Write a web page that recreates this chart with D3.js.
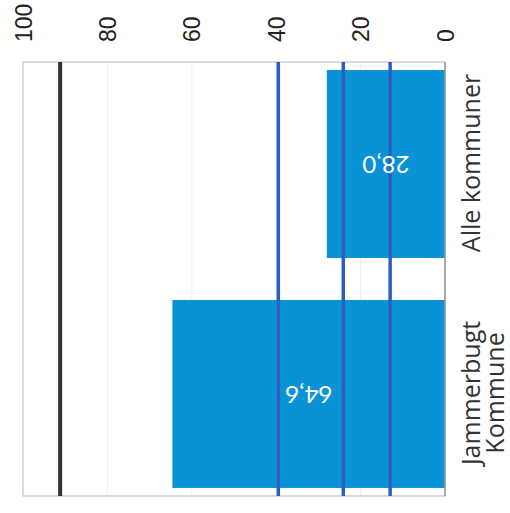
<!DOCTYPE html>
<html>
<head>
<meta charset="utf-8">
<script src="https://cdn.jsdelivr.net/npm/d3@7"></script>
<style>
  body { margin: 0; background: #fff; }
</style>
</head>
<body>
<svg id="chart"></svg>
<script>
// data
const categories = ["Alle kommuner", "Jammerbugt Kommune"];
const categoryLines = [["Alle kommuner"], ["Jammerbugt", "Kommune"]];
const values = [28.0, 64.6];
const valueLabels = ["28,0", "64,6"];
const tickValues = [0, 20, 40, 60, 80, 100];
const blueLines = [13.0, 24.1, 39.5];
const blackLines = [91.2];

const width = 510, height = 513;
const plot = { left: 23, right: 445, top: 62, bottom: 496 };

const svg = d3.select("#chart").attr("width", width).attr("height", height);

// value axis runs right to left, categories top to bottom
const x = d3.scaleLinear().domain([0, 100]).range([plot.right, plot.left]);
const y = d3.scaleBand()
    .domain(categories)
    .range([plot.top, plot.bottom])
    .paddingInner(0.183)
    .paddingOuter(0.035);

// faint gridlines
svg.append("g")
    .selectAll("line")
    .data(tickValues.filter(d => d > 0 && d < 100))
    .enter()
    .append("line")
    .attr("x1", d => x(d)).attr("x2", d => x(d))
    .attr("y1", plot.top).attr("y2", plot.bottom)
    .attr("stroke", "#f0f0f0")
    .attr("stroke-width", 1);

// frame
svg.append("rect")
    .attr("x", plot.left).attr("y", plot.top)
    .attr("width", plot.right - plot.left)
    .attr("height", plot.bottom - plot.top)
    .attr("fill", "none")
    .attr("stroke", "#cfcfcf")
    .attr("stroke-width", 1.5);

// bars
svg.selectAll(".bar")
    .data(values)
    .enter()
    .append("rect")
    .attr("class", "bar")
    .attr("x", d => x(d))
    .attr("y", (d, i) => y(categories[i]))
    .attr("width", d => x(0) - x(d))
    .attr("height", y.bandwidth())
    .attr("fill", "#0a92d6");

// reference lines
svg.selectAll(".blue-line")
    .data(blueLines)
    .enter()
    .append("line")
    .attr("class", "blue-line")
    .attr("x1", d => x(d)).attr("x2", d => x(d))
    .attr("y1", plot.top).attr("y2", plot.bottom)
    .attr("stroke", "#2b5fbf")
    .attr("stroke-width", 3.5);

svg.selectAll(".black-line")
    .data(blackLines)
    .enter()
    .append("line")
    .attr("class", "black-line")
    .attr("x1", d => x(d)).attr("x2", d => x(d))
    .attr("y1", plot.top).attr("y2", plot.bottom)
    .attr("stroke", "#333")
    .attr("stroke-width", 4);

// right edge over the bars
svg.append("line")
    .attr("x1", x(0)).attr("x2", x(0))
    .attr("y1", plot.top).attr("y2", plot.bottom)
    .attr("stroke", "#9a9a9a")
    .attr("stroke-width", 1.5);

// value labels, upside down
svg.selectAll(".val")
    .data(values)
    .enter()
    .append("text")
    .attr("class", "val")
    .attr("transform", (d, i) => `translate(${x(d / 2)},${y(categories[i]) + y.bandwidth() / 2}) rotate(180)`)
    .attr("text-anchor", "middle")
    .attr("dy", "0.35em")
    .attr("font-family", "Lato, sans-serif")
    .attr("font-size", 24)
    .attr("fill", "#fff")
    .text((d, i) => valueLabels[i]);

// value axis along the top
const axisTop = svg.append("g")
    .attr("transform", `translate(0,${plot.top})`)
    .call(d3.axisTop(x).tickValues(tickValues).tickSize(0).tickFormat(d3.format("d")));
axisTop.select(".domain").remove();
axisTop.selectAll("text")
    .attr("x", 20)
    .attr("y", 0)
    .attr("dy", "0.35em")
    .attr("transform", "rotate(-90)")
    .style("text-anchor", "start")
    .attr("font-family", "Liberation Sans, Arial, sans-serif")
    .attr("font-size", 23)
    .attr("fill", "#222");

// category labels on the right
const cat = svg.selectAll(".cat")
    .data(categories)
    .enter()
    .append("text")
    .attr("class", "cat")
    .attr("transform", d => `translate(480,${y(d) + y.bandwidth() / 2 - 1}) rotate(-90)`)
    .attr("text-anchor", "middle")
    .style("font-family", "'Open Sans', sans-serif")
    .attr("font-size", 25)
    .attr("fill", "#333");

cat.each(function(d, i) {
    const lines = categoryLines[i];
    d3.select(this).selectAll("tspan")
        .data(lines)
        .enter()
        .append("tspan")
        .attr("x", 0)
        .attr("y", (l, j) => j * 24)
        .text(l => l);
});
</script>
</body>
</html>
